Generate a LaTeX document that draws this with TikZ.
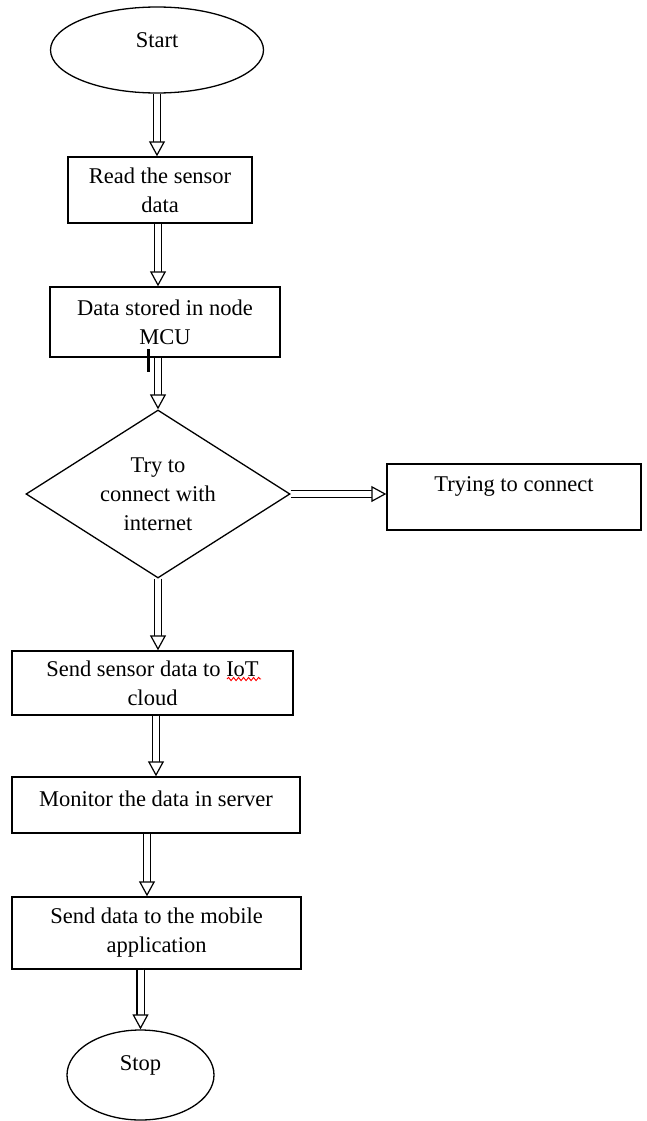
\documentclass[tikz,border=0pt]{standalone}
\usepackage{fontspec}
\setmainfont{Liberation Serif}
\usetikzlibrary{shapes.geometric,arrows.meta,decorations.pathmorphing}
\newcommand{\liftxt}[2]{\raisebox{#1}[\height][\depth]{#2}}
\begin{document}
\begin{tikzpicture}[x=1pt,y=-1pt,
  font=\fontsize{22.5}{29}\selectfont,
  box/.style={draw, line width=1.4pt, rectangle, inner sep=0pt, align=center},
  term/.style={draw, line width=1.3pt, ellipse, inner sep=0pt},
  decision/.style={draw, line width=1.3pt, diamond, inner sep=0pt, align=center, aspect=1.57},
  dbl/.style={line width=1.2pt, double, double distance=6pt, -{Triangle[fill=white, length=15pt, width=16pt]}}]
\fill[white] (0,0) rectangle (646,1121);
\useasboundingbox (0,0) rectangle (646,1121);

\node[term, minimum width=213pt, minimum height=86pt] (start) at (157,50) {\liftxt{10pt}{Start}};
\node[box, minimum width=184pt, minimum height=66pt] (read) at (160,190) {Read the sensor\\data};
\node[box, minimum width=230pt, minimum height=70pt] (data) at (165,322) {Data stored in node\\MCU};
\node[decision, minimum width=264pt, minimum height=168pt] (dec) at (158,494) {Try to\\connect with\\internet};
\node[box, minimum width=254pt, minimum height=66pt] (try) at (514,497) {\liftxt{11pt}{Trying to connect}};
\node[box, minimum width=281pt, minimum height=64pt] (send) at (152.5,683) {Send sensor data to IoT\\cloud};
\node[box, minimum width=288pt, minimum height=56pt] (mon) at (156,805) {\liftxt{6pt}{Monitor the data in server}};
\node[box, minimum width=289pt, minimum height=72pt] (mob) at (156.5,933) {Send data to the mobile\\application};
\node[term, minimum width=147pt, minimum height=90pt] (stop) at (140.5,1075) {\liftxt{10pt}{Stop}};

\draw[dbl] (start.south) -- (start.south |- read.north);
\draw[dbl] (dec.north |- read.south) -- (dec.north |- data.north);
\draw[dbl] (dec.north |- data.south) -- (dec.north);
\draw[dbl] (dec.east) -- (dec.east -| try.west);
\draw[dbl] (dec.south) -- (dec.south |- send.north);
\draw[dbl] (mon.north |- send.south) -- (mon.north);
\draw[dbl] ([xshift=-9pt]mon.south) -- ([xshift=-9pt]mon.south |- mob.north);
\draw[dbl] (stop.north |- mob.south) -- (stop.north);

% cursor mark and spell-check squiggle
\draw[line width=3pt] (148,349) -- (148,372);
\draw[red, line width=0.9pt, decorate, decoration={snake, amplitude=1.6pt, segment length=5pt}] (227,679) -- (261,679);
\end{tikzpicture}
\end{document}
